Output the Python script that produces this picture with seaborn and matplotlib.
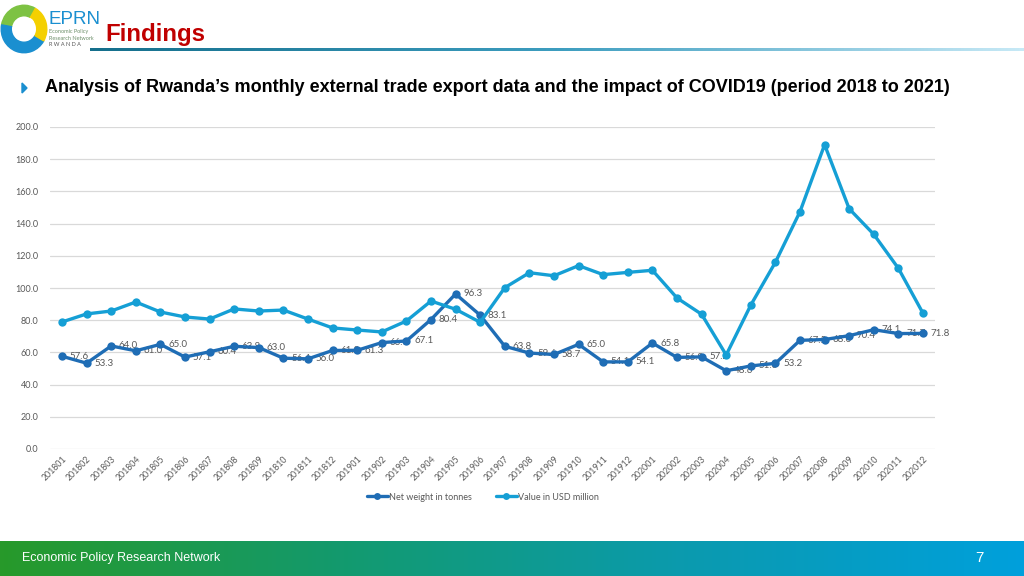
import numpy as np
import pandas as pd
import matplotlib
matplotlib.use("Agg")
import matplotlib.pyplot as plt
import seaborn as sns
from matplotlib import font_manager
from matplotlib.patches import Wedge, Polygon, Ellipse
from matplotlib.lines import Line2D
from matplotlib.colors import LinearSegmentedColormap

months = ["201801", "201802", "201803", "201804", "201805", "201806", "201807", "201808",
          "201809", "201810", "201811", "201812", "201901", "201902", "201903", "201904",
          "201905", "201906", "201907", "201908", "201909", "201910", "201911", "201912",
          "202001", "202002", "202003", "202004", "202005", "202006", "202007", "202008",
          "202009", "202010", "202011", "202012"]
net_weight = [57.6, 53.3, 64.0, 61.0, 65.0, 57.1, 60.4, 63.8, 63.0, 56.4, 56.0, 61.2,
              61.3, 66.1, 67.1, 80.4, 96.3, 83.1, 63.8, 59.6, 58.7, 65.0, 54.1, 54.1,
              65.8, 56.9, 57.2, 48.6, 51.6, 53.2, 67.5, 68.0, 70.4, 74.1, 71.7, 71.8]
value_usd = [78.9, 83.9, 85.7, 91.3, 85.1, 82.0, 80.7, 87.0, 85.7, 86.3, 80.7, 75.2,
             73.9, 72.7, 79.5, 91.9, 86.8, 78.7, 100.2, 109.5, 107.6, 113.9, 108.3, 109.7,
             111.0, 93.8, 83.7, 58.4, 89.4, 116.0, 147.4, 189.0, 149.2, 133.3, 112.2, 84.3]
series_names = ["Net weight in tonnes", "Value in USD million"]
yticks = [0, 20, 40, 60, 80, 100, 120, 140, 160, 180, 200]

title = "Findings"
subtitle = "Analysis of Rwanda\u2019s monthly external trade export data and the impact of COVID19 (period 2018 to 2021)"
footer = "Economic Policy Research Network"
page = "7"

C_NET = "#1f6db5"
C_VAL = "#159fd5"
GRAY = "#595959"

sns.set_theme(style="white")
names = {f.name for f in font_manager.fontManager.ttflist}
chart_font = "Lato" if "Lato" in names else "DejaVu Sans"
head_font = "Liberation Sans" if "Liberation Sans" in names else "DejaVu Sans"
narrow_font = "Liberation Sans Narrow" if "Liberation Sans Narrow" in names else head_font
plt.rcParams["font.family"] = [chart_font, "DejaVu Sans"]

df = pd.DataFrame({
    "month": months * 2,
    "value": net_weight + value_usd,
    "series": [series_names[0]] * len(months) + [series_names[1]] * len(months),
})

fig = plt.figure(figsize=(10.24, 5.76), dpi=100)
fig.patch.set_facecolor("white")

ax = fig.add_axes([49.7 / 1024, 1 - 449 / 576, 885.6 / 1024, 322 / 576])
sns.lineplot(data=df, x="month", y="value", hue="series", palette=[C_NET, C_VAL],
             marker="o", markersize=6, markeredgewidth=0, linewidth=2.4,
             hue_order=series_names, sort=False, ax=ax, legend=False, zorder=3)
ax.set_xlim(-0.5, len(months) - 0.5)
ax.set_ylim(0, 200)
ax.set_yticks(yticks)
ax.set_yticklabels([f"{v:.1f}" for v in yticks], fontsize=6.5, color=GRAY)
ax.set_xticks(range(len(months)))
ax.set_xticklabels(months, rotation=45, ha="right", rotation_mode="anchor",
                   fontsize=6.3, color=GRAY)
ax.tick_params(axis="y", length=0, pad=8)
ax.tick_params(axis="x", length=0, pad=4)
ax.grid(axis="y", color="#d9d9d9", linewidth=0.9)
ax.set_axisbelow(True)
for s in ax.spines.values():
    s.set_visible(False)
ax.set_xlabel("")
ax.set_ylabel("")

for i, v in enumerate(net_weight):
    ax.annotate(f"{v:.1f}", (i, v), xytext=(5.5, 0), textcoords="offset points",
                ha="left", va="center", fontsize=7, color=GRAY, zorder=1.5)

handles = [Line2D([0], [0], color=c, lw=2.4, marker="o", markersize=5, markeredgewidth=0)
           for c in (C_NET, C_VAL)]
fig.legend(handles, series_names, loc="center", bbox_to_anchor=(483 / 1024, 1 - 497 / 576),
           ncol=2, frameon=False, fontsize=6.5, labelcolor=GRAY, handlelength=2.3,
           handletextpad=0.2, columnspacing=2.6)

# ---- header / footer decorations ----
hdr = fig.add_axes([0, 0, 1, 1], zorder=-1)
grad = np.linspace(0, 1, 256).reshape(1, -1)
cm_line = LinearSegmentedColormap.from_list("l", ["#156f8c", "#3d9dbf", "#c7e9f6"])
hdr.imshow(grad, cmap=cm_line, extent=(90, 1024, 51.5, 48.5), aspect="auto")
cm_foot = LinearSegmentedColormap.from_list("f", ["#27992a", "#139a6e", "#0b9aae", "#00a0dc"])
hdr.imshow(grad, cmap=cm_foot, extent=(0, 1024, 576, 541), aspect="auto")
hdr.set_xlim(0, 1024)
hdr.set_ylim(576, 0)
hdr.axis("off")

# logo ring (tilted ellipse ring)
logo = fig.add_axes([0 / 1024, 1 - 54 / 576, 48 / 1024, 50 / 576])
logo.set_xlim(-1, 1); logo.set_ylim(-1, 1); logo.axis("off")
ring = [(60, 170, "#7dc243"), (170, 330, "#1a8fd0"), (330, 420, "#f4d000")]
for a0, a1, c in ring:
    logo.add_patch(Wedge((0, 0), 0.95, a0, a1, width=0.42, color=c))
logo.add_patch(Ellipse((0.02, 0.0), 0.95, 0.6, angle=50, color="white"))

hdr.text(48, 19, "EPRN", fontsize=13.5, color="#1a8fd0", family=narrow_font,
         va="center", ha="left")
hdr.text(49, 31.5, "Economic Policy", fontsize=4.0, color="#6d8f6a", va="center")
hdr.text(49, 38, "Research Network", fontsize=4.0, color="#6d8f6a", va="center")
hdr.text(49, 45, "R W A N D A", fontsize=4.0, color="#555555", va="center")

hdr.text(105, 34, title, fontsize=17.3, fontweight="bold", color="#c00000",
         family=head_font, va="center", ha="left")
hdr.add_patch(Polygon([[22, 83], [22, 93], [27, 88]], closed=True, color="#1a8fd0"))
hdr.text(45, 88, subtitle, fontsize=13, fontweight="bold", color="black",
         family=narrow_font, va="center", ha="left")
hdr.text(22, 558.5, footer, fontsize=9, color="white", family=head_font, va="center")
hdr.text(975, 558.5, page, fontsize=11, color="white", family=head_font, va="center")

fig.savefig("out.png", dpi=100)
